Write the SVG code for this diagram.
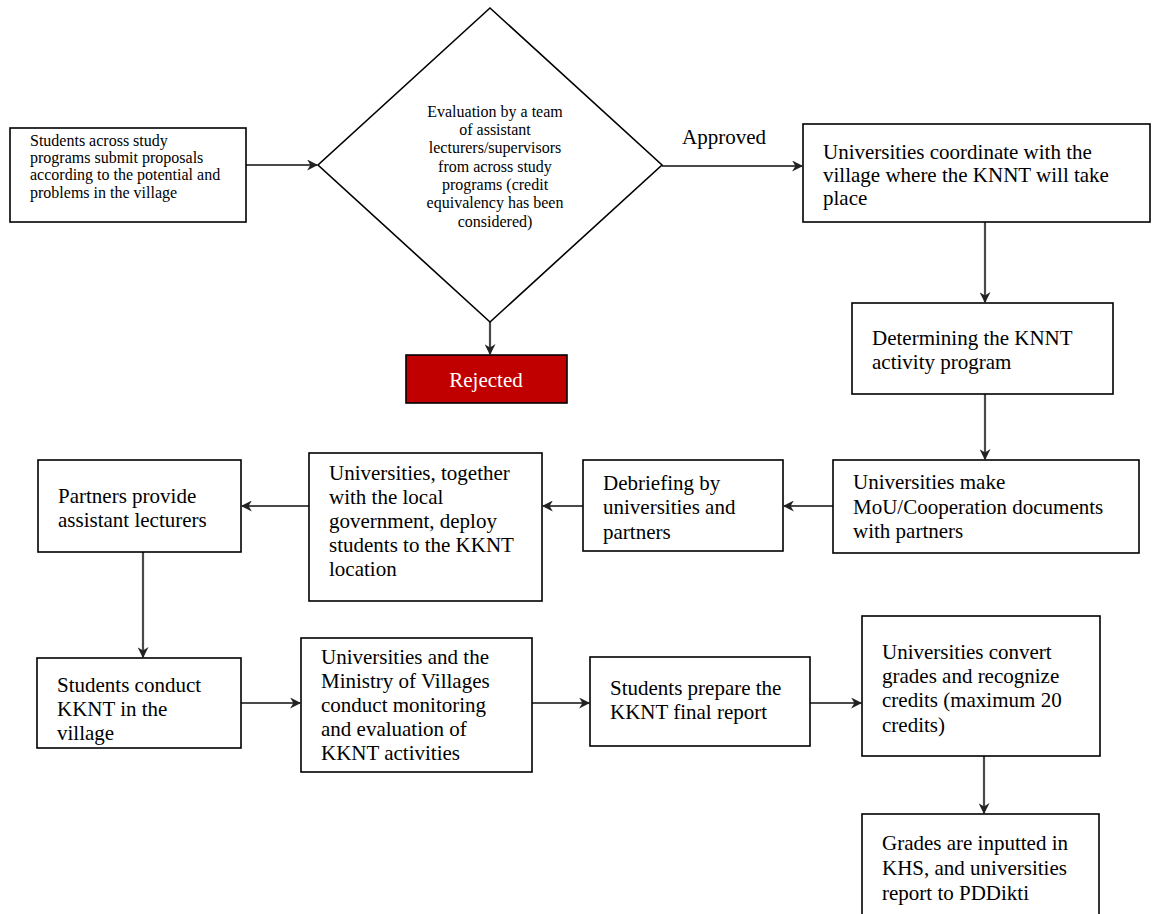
<svg xmlns="http://www.w3.org/2000/svg" width="1158" height="914" viewBox="0 0 1158 914">
  <style>
    .box { fill: #ffffff; stroke: #000000; stroke-width: 1.6; }
    .t { font-family: "Liberation Serif", "Times New Roman", serif; font-size: 21px; fill: #000000; }
    .s { font-family: "Liberation Serif", "Times New Roman", serif; font-size: 16px; fill: #000000; }
    .link { fill: none; stroke: #4a4a4a; stroke-width: 2.2; marker-end: url(#head); }
  </style>
  <defs>
    <marker id="head" viewBox="0 0 10 10" refX="9" refY="5" markerWidth="5" markerHeight="5" orient="auto" markerUnits="strokeWidth">
      <path d="M0,0 L10,5 L0,10 L3,5 z" fill="#222222"/>
    </marker>
  </defs>
  <rect width="1158" height="914" fill="#ffffff"/>

  <!-- connectors -->
  <g id="connectors">
    <line class="link" x1="246" y1="165" x2="317" y2="165"/>
    <line class="link" x1="662" y1="166" x2="802" y2="166"/>
    <line class="link" x1="490" y1="322" x2="490" y2="354"/>
    <line class="link" x1="985" y1="222" x2="985" y2="302"/>
    <line class="link" x1="985" y1="394" x2="985" y2="459"/>
    <line class="link" x1="833" y1="506" x2="784" y2="506"/>
    <line class="link" x1="583" y1="506" x2="543" y2="506"/>
    <line class="link" x1="309" y1="506" x2="242" y2="506"/>
    <line class="link" x1="143" y1="552" x2="143" y2="657"/>
    <line class="link" x1="241" y1="703" x2="300" y2="703"/>
    <line class="link" x1="532" y1="703" x2="589" y2="703"/>
    <line class="link" x1="810" y1="703" x2="861" y2="703"/>
    <line class="link" x1="984" y1="756" x2="984" y2="813"/>
    <text class="t" x="682" y="144">Approved</text>
  </g>

  <!-- step nodes -->
  <g id="submit">
    <rect class="box" x="10" y="128" width="236" height="94"/>
    <text class="s" x="30" y="146">Students across study</text>
    <text class="s" x="30" y="163">programs submit proposals</text>
    <text class="s" x="30" y="180">according to the potential and</text>
    <text class="s" x="30" y="198">problems in the village</text>
  </g>

  <g id="evaluation">
    <polygon class="box" points="490,8 662,165 490,322 318,165"/>
    <text class="s" text-anchor="middle" x="495" y="117">Evaluation by a team</text>
    <text class="s" text-anchor="middle" x="495" y="135">of assistant</text>
    <text class="s" text-anchor="middle" x="495" y="153">lecturers/supervisors</text>
    <text class="s" text-anchor="middle" x="495" y="172">from across study</text>
    <text class="s" text-anchor="middle" x="495" y="190">programs (credit</text>
    <text class="s" text-anchor="middle" x="495" y="208">equivalency has been</text>
    <text class="s" text-anchor="middle" x="495" y="227">considered)</text>
  </g>

  <g id="rejected">
    <rect x="406" y="355" width="161" height="48" fill="#c00000" stroke="#000000" stroke-width="1.6"/>
    <text class="t" text-anchor="middle" x="486" y="387" style="fill:#ffffff">Rejected</text>
  </g>

  <g id="coordinate">
    <rect class="box" x="803" y="124" width="347" height="98"/>
    <text class="t" x="823" y="159">Universities coordinate with the</text>
    <text class="t" x="823" y="182">village where the KNNT will take</text>
    <text class="t" x="823" y="205">place</text>
  </g>

  <g id="program">
    <rect class="box" x="852" y="303" width="261" height="91"/>
    <text class="t" x="872" y="345">Determining the KNNT</text>
    <text class="t" x="872" y="369">activity program</text>
  </g>

  <g id="mou">
    <rect class="box" x="833" y="460" width="306" height="93"/>
    <text class="t" x="853" y="489">Universities make</text>
    <text class="t" x="853" y="514">MoU/Cooperation documents</text>
    <text class="t" x="853" y="538">with partners</text>
  </g>

  <g id="debriefing">
    <rect class="box" x="583" y="460" width="200" height="91"/>
    <text class="t" x="603" y="490">Debriefing by</text>
    <text class="t" x="603" y="514">universities and</text>
    <text class="t" x="603" y="539">partners</text>
  </g>

  <g id="deploy">
    <rect class="box" x="309" y="453" width="233" height="148"/>
    <text class="t" x="329" y="480">Universities, together</text>
    <text class="t" x="329" y="504">with the local</text>
    <text class="t" x="329" y="528">government, deploy</text>
    <text class="t" x="329" y="552">students to the KKNT</text>
    <text class="t" x="329" y="576">location</text>
  </g>

  <g id="partners">
    <rect class="box" x="38" y="460" width="203" height="92"/>
    <text class="t" x="58" y="503">Partners provide</text>
    <text class="t" x="58" y="527">assistant lecturers</text>
  </g>

  <g id="conduct">
    <rect class="box" x="37" y="658" width="204" height="90"/>
    <text class="t" x="57" y="692">Students conduct</text>
    <text class="t" x="57" y="716">KKNT in the</text>
    <text class="t" x="57" y="740">village</text>
  </g>

  <g id="monitoring">
    <rect class="box" x="301" y="638" width="231" height="134"/>
    <text class="t" x="321" y="664">Universities and the</text>
    <text class="t" x="321" y="688">Ministry of Villages</text>
    <text class="t" x="321" y="712">conduct monitoring</text>
    <text class="t" x="321" y="736">and evaluation of</text>
    <text class="t" x="321" y="760">KKNT activities</text>
  </g>

  <g id="report">
    <rect class="box" x="590" y="657" width="220" height="89"/>
    <text class="t" x="610" y="695">Students prepare the</text>
    <text class="t" x="610" y="719">KKNT final report</text>
  </g>

  <g id="convert">
    <rect class="box" x="862" y="616" width="238" height="140"/>
    <text class="t" x="882" y="659">Universities convert</text>
    <text class="t" x="882" y="683">grades and recognize</text>
    <text class="t" x="882" y="707">credits (maximum 20</text>
    <text class="t" x="882" y="732">credits)</text>
  </g>

  <g id="pddikti">
    <rect class="box" x="862" y="814" width="237" height="120"/>
    <text class="t" x="882" y="850">Grades are inputted in</text>
    <text class="t" x="882" y="875">KHS, and universities</text>
    <text class="t" x="882" y="900">report to PDDikti</text>
  </g>
</svg>
